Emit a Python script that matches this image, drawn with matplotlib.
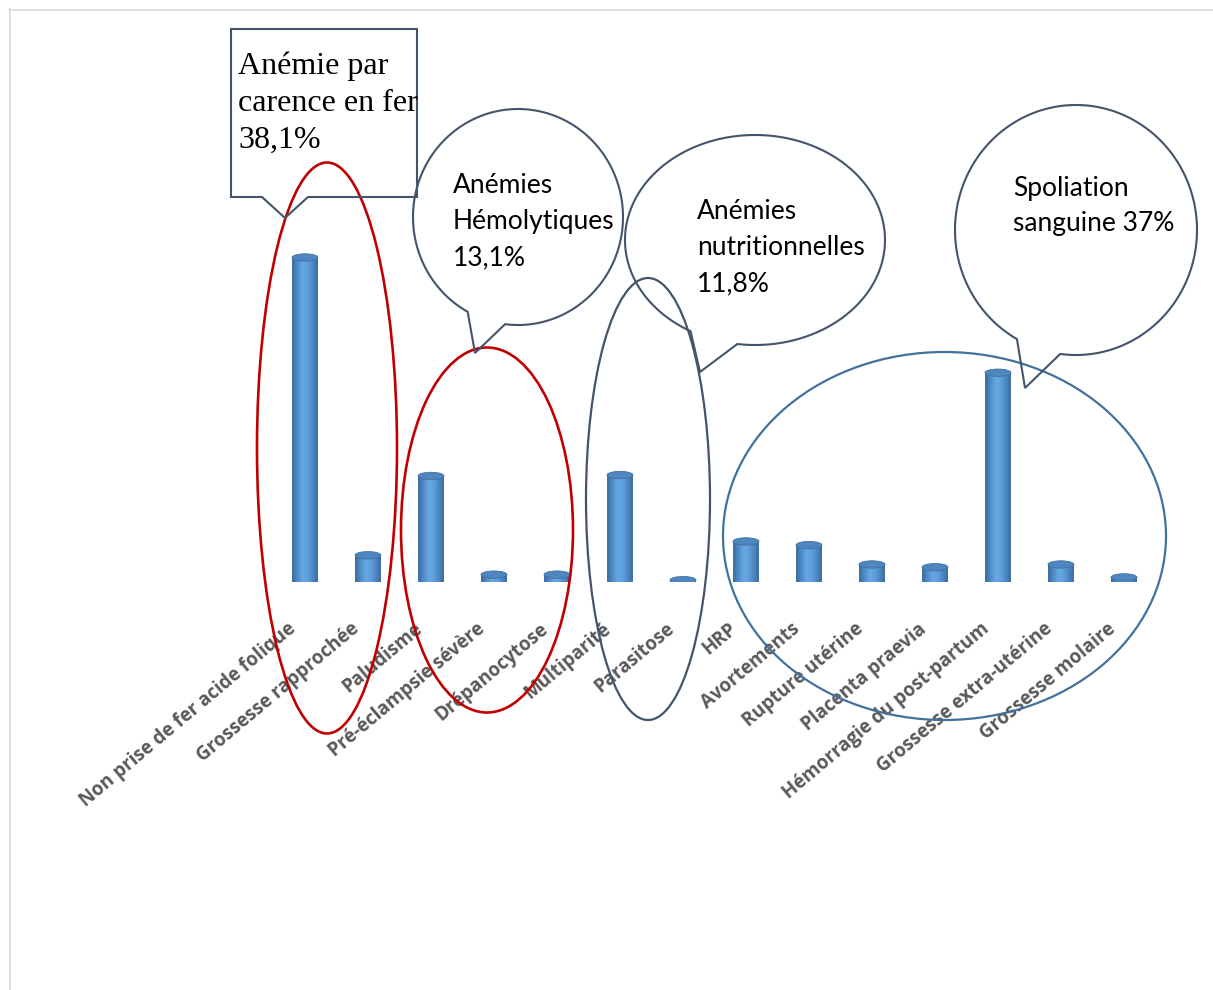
import numpy as np
import matplotlib
matplotlib.use("Agg")
import matplotlib.pyplot as plt
from matplotlib.patches import Ellipse, Polygon
from matplotlib.transforms import ScaledTranslation
from matplotlib.colors import LinearSegmentedColormap

# Causes of anaemia in pregnancy (% of cases)
categories = [
    "Non prise de fer acide folique", "Grossesse rapprochée", "Paludisme",
    "Pré-éclampsie sévère", "Drépanocytose", "Multiparité", "Parasitose",
    "HRP", "Avortements", "Rupture utérine", "Placenta praevia",
    "Hémorragie du post-partum", "Grossesse extra-utérine", "Grossesse molaire",
]
values = [35.2, 2.9, 11.5, 0.8, 0.8, 11.6, 0.2, 4.4, 4.0, 1.9, 1.6, 22.7, 1.9, 0.5]

group_iron = ["Anémie par", "carence en fer", "38,1%"]
group_haemolytic = ["Anémies", "Hémolytiques", "13,1%"]
group_nutritional = ["Anémies", "nutritionnelles", "11,8%"]
group_blood_loss = ["Spoliation", "sanguine 37%"]

W, H, DPI = 1213, 990, 100
fig = plt.figure(figsize=(W / DPI, H / DPI), dpi=DPI)
fig.patch.set_facecolor("white")


def px_rect(x0, y0, x1, y1):
    """Figure-fraction rectangle from pixel corners (origin top-left)."""
    return [x0 / W, 1 - y1 / H, (x1 - x0) / W, (y1 - y0) / H]


# ---- bar chart (cylinders) ----
ax = fig.add_axes(px_rect(273.5, 216, 1155.5, 582))
ax.set_facecolor("none")
YMAX = 39.7
hw = 0.206      # half width of a cylinder (x data units)
ry = 0.40       # half height of the elliptical caps (y data units)

cyl_cmap = LinearSegmentedColormap.from_list(
    "cyl", [(0.0, "#3a6a9c"), (0.18, "#4d88c3"), (0.42, "#66a8e6"),
            (0.62, "#5e9edc"), (0.85, "#4a82bb"), (1.0, "#3b6a9a")])
grad = np.linspace(0, 1, 64).reshape(1, -1)
t = np.linspace(np.pi, 2 * np.pi, 48)

for i, v in enumerate(values):
    xs = i + hw * np.cos(t)
    ys = ry * np.sin(t)
    outline = [(i - hw, v)] + list(zip(xs, ys)) + [(i + hw, v)]
    body = Polygon(outline, closed=True, facecolor="none", edgecolor="none")
    ax.add_patch(body)
    im = ax.imshow(grad, cmap=cyl_cmap, extent=[i - hw, i + hw, -ry, v],
                   aspect="auto", interpolation="bilinear", zorder=2)
    im.set_clip_path(body)
    ax.add_patch(Ellipse((i, v), 2 * hw, 2 * ry, facecolor="#4f86bf",
                         edgecolor="#41719f", lw=0.6, zorder=3))

ax.set_xlim(-0.5, len(values) - 0.5)
ax.set_ylim(0, YMAX)
ax.set_xticks(np.arange(len(categories)))
ax.set_xticklabels(categories, rotation=40, ha="right", va="baseline",
                   rotation_mode="anchor", fontsize=13.5, fontweight="bold",
                   color="#595959", family="Open Sans")
ax.tick_params(axis="x", length=0, pad=35)
ax.tick_params(axis="y", left=False, labelleft=False)
shift = ScaledTranslation(-8 / DPI, 0, fig.dpi_scale_trans)
for lab in ax.get_xticklabels():
    lab.set_transform(lab.get_transform() + shift)
for s in ax.spines.values():
    s.set_visible(False)

# ---- annotation layer in pixel coordinates ----
ov = fig.add_axes([0, 0, 1, 1], zorder=5)
ov.set_xlim(0, W)
ov.set_ylim(H, 0)
ov.axis("off")
ov.patch.set_alpha(0)

# frame of the chart area
ov.plot([9, W + 5], [9.5, 9.5], color="#d9d9d9", lw=1.2)
ov.plot([9.5, 9.5], [9, H + 5], color="#d9d9d9", lw=1.2)

SLATE = "#44546a"

# group ellipses
ov.add_patch(Ellipse((327, 448), 140, 571, fill=False, ec="#c00000", lw=1.9))
ov.add_patch(Ellipse((487, 530), 172, 365, fill=False, ec="#c00000", lw=1.9))
ov.add_patch(Ellipse((648, 499), 124, 442, fill=False, ec=SLATE, lw=1.6))
ov.add_patch(Ellipse((944.5, 536), 443, 368, fill=False, ec="#41719c", lw=1.6))


def oval_callout(cx, cy, a, b, p1, tip, p2):
    """Speech-bubble outline: ellipse with a pointed tail between p1 and p2."""
    def ang(p):
        return np.arctan2((p[1] - cy) / b, (p[0] - cx) / a)
    t1, t2 = ang(p1), ang(p2)
    if (t2 - t1) % (2 * np.pi) < np.pi:
        start, end = t2, t1
    else:
        start, end = t1, t2
    while end < start:
        end += 2 * np.pi
    arc_t = np.linspace(start, end, 300)
    pts = list(zip(cx + a * np.cos(arc_t), cy + b * np.sin(arc_t))) + [tip]
    ov.add_patch(Polygon(pts, closed=True, fill=False, ec=SLATE, lw=1.5,
                         joinstyle="miter"))


# rectangular callout
box = [(231, 29), (417, 29), (417, 197), (308, 197), (285, 218),
       (262, 197), (231, 197)]
ov.add_patch(Polygon(box, closed=True, fill=False, ec=SLATE, lw=1.5,
                     joinstyle="miter"))
clip_box = Polygon([(231, 29), (417, 29), (417, 197), (231, 197)],
                   closed=True, transform=ov.transData)
for k, line in enumerate(group_iron):
    txt = ov.text(238, 74 + 37 * k, line, family="Liberation Serif",
                  fontsize=23, color="black", va="baseline", ha="left")
    txt.set_clip_path(clip_box)

oval_callout(518, 217, 105, 108, (467, 313), (475, 353), (505, 325))
oval_callout(755, 240, 130, 105, (690, 332), (700, 372), (737, 346))
oval_callout(1076, 230, 121, 125, (1017, 339), (1025, 388), (1060, 356))

CALLOUT_FS = 19
for k, line in enumerate(group_haemolytic):
    ov.text(453, 193 + 36 * k, line, family="Lato", fontsize=CALLOUT_FS,
            color="black", va="baseline", ha="left")
for k, line in enumerate(group_nutritional):
    ov.text(697, 219 + 36 * k, line, family="Lato", fontsize=CALLOUT_FS,
            color="black", va="baseline", ha="left")
for k, line in enumerate(group_blood_loss):
    ov.text(1013, 196 + 35 * k, line, family="Lato", fontsize=CALLOUT_FS,
            color="black", va="baseline", ha="left")

fig.savefig("out.png", dpi=DPI)
